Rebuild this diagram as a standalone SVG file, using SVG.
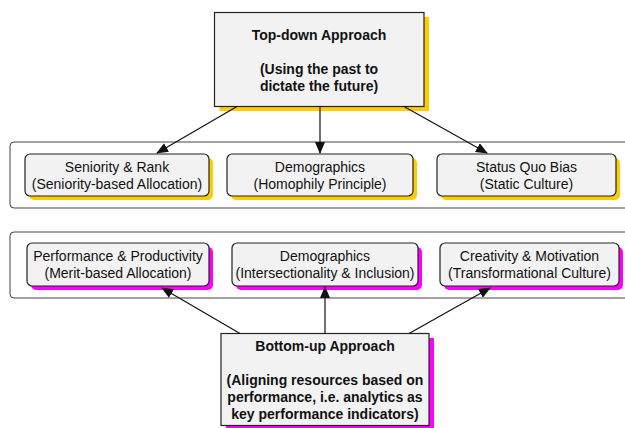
<svg xmlns="http://www.w3.org/2000/svg" width="625" height="428" viewBox="0 0 625 428">
<style>
text{font-family:"Liberation Sans",Arial,sans-serif;fill:#111;text-anchor:middle}
.b{font-weight:bold;font-size:14px}
.r{font-size:14px}
.box{fill:#f2f2f2;stroke:#222;stroke-width:1.2}
.cont{fill:#fff;stroke:#444;stroke-width:1}
.ys{fill:#ffcc00}
.ms{fill:#ff00ff}
.c{stroke:#111;stroke-width:1.2;fill:none;marker-end:url(#ah)}
</style>
<defs>
<marker id="ah" markerWidth="12" markerHeight="10" refX="11" refY="5" orient="auto" markerUnits="userSpaceOnUse">
<path d="M0,0 L12,5 L0,10 Z" fill="#111"/>
</marker>
</defs>
<rect width="625" height="428" fill="#fff"/>
<g id="container-top"><rect class="cont" x="10" y="142" width="625" height="66" rx="4"/></g>
<g id="container-bottom"><rect class="cont" x="10" y="232" width="625" height="66" rx="4"/></g>
<g id="top-approach">
<rect class="ys" x="219.5" y="17" width="209.5" height="94"/>
<rect class="box" x="214.5" y="12.5" width="209.5" height="94"/>
<text class="b" x="319" y="40">Top-down Approach</text>
<text class="b" x="319" y="74">(Using the past to</text>
<text class="b" x="319" y="91">dictate the future)</text>
</g>
<g id="seniority">
<rect class="ys" x="29" y="158" width="184" height="42" rx="5"/>
<rect class="box" x="25" y="154" width="184" height="42" rx="5"/>
<text class="r" x="117" y="172">Seniority &amp; Rank</text>
<text class="r" x="117" y="189">(Seniority-based Allocation)</text>
</g>
<g id="demographics-top">
<rect class="ys" x="231" y="158" width="186" height="42" rx="5"/>
<rect class="box" x="227" y="154" width="186" height="42" rx="5"/>
<text class="r" x="320" y="172">Demographics</text>
<text class="r" x="320" y="189">(Homophily Principle)</text>
</g>
<g id="status-quo">
<rect class="ys" x="441" y="158" width="179" height="42" rx="5"/>
<rect class="box" x="437" y="154" width="179" height="42" rx="5"/>
<text class="r" x="526.5" y="172">Status Quo Bias</text>
<text class="r" x="526.5" y="189">(Static Culture)</text>
</g>
<g id="performance">
<rect class="ms" x="31" y="247" width="182" height="43" rx="5"/>
<rect class="box" x="27" y="243" width="182" height="43" rx="5"/>
<text class="r" x="118" y="261">Performance &amp; Productivity</text>
<text class="r" x="118" y="278">(Merit-based Allocation)</text>
</g>
<g id="demographics-bottom">
<rect class="ms" x="236" y="247" width="186" height="43" rx="5"/>
<rect class="box" x="232" y="243" width="186" height="43" rx="5"/>
<text class="r" x="325" y="261">Demographics</text>
<text class="r" x="325" y="278">(Intersectionality &amp; Inclusion)</text>
</g>
<g id="creativity">
<rect class="ms" x="444" y="247" width="179" height="43" rx="5"/>
<rect class="box" x="440" y="243" width="179" height="43" rx="5"/>
<text class="r" x="529.5" y="261">Creativity &amp; Motivation</text>
<text class="r" x="529.5" y="278">(Transformational Culture)</text>
</g>
<g id="bottom-approach">
<rect class="ms" x="226" y="338" width="208" height="92"/>
<rect class="box" x="221" y="333.5" width="208" height="92"/>
<text class="b" x="325" y="351">Bottom-up Approach</text>
<text class="b" x="325" y="385">(Aligning resources based on</text>
<text class="b" x="325" y="402">performance, i.e. analytics as</text>
<text class="b" x="325" y="419">key performance indicators)</text>
</g>
<g id="connectors">
<line class="c" x1="237" y1="106.5" x2="157" y2="153"/>
<line class="c" x1="320" y1="106.5" x2="320" y2="153"/>
<line class="c" x1="404" y1="106.5" x2="487" y2="153"/>
<line class="c" x1="240" y1="333.5" x2="162" y2="288"/>
<line class="c" x1="325" y1="333.5" x2="325" y2="287"/>
<line class="c" x1="409" y1="333.5" x2="490" y2="288"/>
</g>
</svg>
